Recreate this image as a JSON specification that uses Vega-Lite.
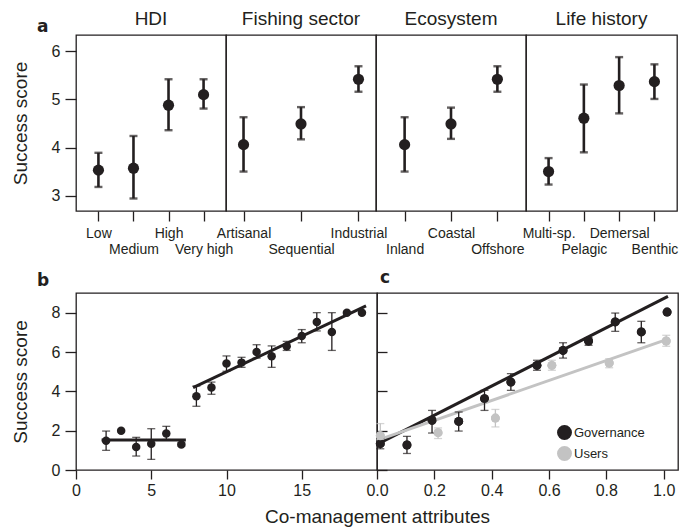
{
  "$schema": "https://vega.github.io/schema/vega-lite/v6.json",
  "background": "white",
  "padding": {"left": 10, "top": 9, "right": 5, "bottom": 0},
  "config": {
    "font": "Liberation Sans",
    "view": {"stroke": "#231f20", "strokeWidth": 1.3},
    "axis": {"domain": false, "grid": false, "tickColor": "#231f20", "tickWidth": 1.3, "labelColor": "#231f20", "titleColor": "#231f20", "titleFontWeight": "normal", "labelFont": "Liberation Sans", "titleFont": "Liberation Sans"},
    "title": {"font": "Liberation Sans", "fontWeight": "normal", "fontSize": 19, "color": "#231f20", "offset": 6},
    "legend": {"labelFont": "Liberation Sans"}
  },
  "datasets": {
    "a": [
      {"group": "HDI", "cat": "Low", "mean": 3.53, "lo": 3.18, "hi": 3.89},
      {"group": "HDI", "cat": "Medium", "mean": 3.57, "lo": 2.94, "hi": 4.24},
      {"group": "HDI", "cat": "High", "mean": 4.88, "lo": 4.36, "hi": 5.42},
      {"group": "HDI", "cat": "Very high", "mean": 5.10, "lo": 4.81, "hi": 5.42},
      {"group": "Fishing sector", "cat": "Artisanal", "mean": 4.06, "lo": 3.50, "hi": 4.63},
      {"group": "Fishing sector", "cat": "Sequential", "mean": 4.49, "lo": 4.17, "hi": 4.84},
      {"group": "Fishing sector", "cat": "Industrial", "mean": 5.42, "lo": 5.16, "hi": 5.69},
      {"group": "Ecosystem", "cat": "Inland", "mean": 4.06, "lo": 3.50, "hi": 4.63},
      {"group": "Ecosystem", "cat": "Coastal", "mean": 4.49, "lo": 4.18, "hi": 4.83},
      {"group": "Ecosystem", "cat": "Offshore", "mean": 5.42, "lo": 5.16, "hi": 5.69},
      {"group": "Life history", "cat": "Multi-sp.", "mean": 3.50, "lo": 3.23, "hi": 3.78},
      {"group": "Life history", "cat": "Pelagic", "mean": 4.61, "lo": 3.90, "hi": 5.31},
      {"group": "Life history", "cat": "Demersal", "mean": 5.29, "lo": 4.71, "hi": 5.88},
      {"group": "Life history", "cat": "Benthic", "mean": 5.37, "lo": 5.01, "hi": 5.73}
    ],
    "b": [
      {"x": 2, "mean": 1.49, "lo": 1.0, "hi": 1.98},
      {"x": 3, "mean": 2.0, "lo": null, "hi": null},
      {"x": 4, "mean": 1.17, "lo": 0.71, "hi": 1.66},
      {"x": 5, "mean": 1.34, "lo": 0.54, "hi": 2.1},
      {"x": 6, "mean": 1.85, "lo": 1.55, "hi": 2.22},
      {"x": 7, "mean": 1.30, "lo": 1.22, "hi": 1.38},
      {"x": 8, "mean": 3.75, "lo": 3.24, "hi": 4.27},
      {"x": 9, "mean": 4.19, "lo": 3.85, "hi": 4.47},
      {"x": 10, "mean": 5.41, "lo": 5.02, "hi": 5.8},
      {"x": 11, "mean": 5.46, "lo": 5.22, "hi": 5.73},
      {"x": 12, "mean": 6.0, "lo": 5.69, "hi": 6.37},
      {"x": 13, "mean": 5.78, "lo": 5.22, "hi": 6.31},
      {"x": 14, "mean": 6.29, "lo": 6.08, "hi": 6.54},
      {"x": 15, "mean": 6.81, "lo": 6.47, "hi": 7.14},
      {"x": 16, "mean": 7.53, "lo": 7.07, "hi": 8.0},
      {"x": 17, "mean": 7.02, "lo": 6.08, "hi": 8.0},
      {"x": 18, "mean": 8.0, "lo": null, "hi": null},
      {"x": 19, "mean": 8.0, "lo": null, "hi": null}
    ],
    "blines": [
      {"seg": "low", "x": 1.7, "y": 1.53},
      {"seg": "low", "x": 7.3, "y": 1.53},
      {"seg": "high", "x": 7.78, "y": 4.19},
      {"seg": "high", "x": 19.27, "y": 8.34}
    ],
    "c": [
      {"series": "Governance", "x": 0.0115, "mean": 1.34, "lo": 1.08, "hi": 1.62},
      {"series": "Governance", "x": 0.1045, "mean": 1.27, "lo": 0.84, "hi": 1.71},
      {"series": "Governance", "x": 0.192, "mean": 2.53, "lo": 1.88, "hi": 3.03},
      {"series": "Governance", "x": 0.285, "mean": 2.47, "lo": 1.98, "hi": 2.95},
      {"series": "Governance", "x": 0.375, "mean": 3.63, "lo": 3.03, "hi": 4.05},
      {"series": "Governance", "x": 0.467, "mean": 4.47, "lo": 4.05, "hi": 4.9},
      {"series": "Governance", "x": 0.558, "mean": 5.32, "lo": 5.07, "hi": 5.58},
      {"series": "Governance", "x": 0.649, "mean": 6.08, "lo": 5.69, "hi": 6.47},
      {"series": "Governance", "x": 0.738, "mean": 6.56, "lo": 6.34, "hi": 6.73},
      {"series": "Governance", "x": 0.831, "mean": 7.53, "lo": 7.05, "hi": 7.98},
      {"series": "Governance", "x": 0.922, "mean": 7.02, "lo": 6.47, "hi": 7.56},
      {"series": "Governance", "x": 1.012, "mean": 8.03, "lo": null, "hi": null},
      {"series": "Users", "x": 0.0115, "mean": 1.74, "lo": 1.3, "hi": 2.36},
      {"series": "Users", "x": 0.213, "mean": 1.9, "lo": 1.6, "hi": 2.14},
      {"series": "Users", "x": 0.413, "mean": 2.64, "lo": 2.19, "hi": 3.08},
      {"series": "Users", "x": 0.61, "mean": 5.32, "lo": 5.07, "hi": 5.58},
      {"series": "Users", "x": 0.81, "mean": 5.44, "lo": 5.2, "hi": 5.66},
      {"series": "Users", "x": 1.009, "mean": 6.56, "lo": 6.29, "hi": 6.85}
    ],
    "clines": [
      {"series": "Governance", "x": 0.0, "y": 1.3},
      {"series": "Governance", "x": 1.015, "y": 8.83},
      {"series": "Users", "x": 0.0, "y": 1.51},
      {"series": "Users", "x": 1.012, "y": 6.64}
    ]
  },
  "vconcat": [
    {
      "title": {"text": "a", "anchor": "start", "frame": "group", "dx": -39, "dy": 8, "offset": -19, "font": "DejaVu Sans", "fontWeight": "bold", "fontSize": 17},
      "spacing": 0,
      "bounds": "flush",
      "hconcat": [
        {
          "width": 150, "height": 176,
          "data": {"name": "a"},
          "transform": [{"filter": "datum.group === 'HDI'"}],
          "title": {"text": "HDI", "anchor": "middle", "frame": "group"},
          "encoding": {
            "x": {"field": "cat", "type": "nominal", "sort": ["Low", "Medium", "High", "Very high"], "scale": {"type": "point", "padding": 0.64},
              "axis": {"title": null, "labelAngle": 0, "tickSize": 10, "labelPadding": 5, "labelFontSize": 14, "labelBaseline": "top", "labelLineHeight": 16.5,
                "labelExpr": "indexof(['Medium','Very high','Sequential','Inland','Offshore','Pelagic','Benthic'], datum.label) >= 0 ? ['', datum.label] : datum.label"}}
          },
          "layer": [
            {"mark": {"type": "rule", "strokeWidth": 2.6, "color": "#231f20"},
              "encoding": {"y": {"field": "lo", "type": "quantitative", "scale": {"domain": [2.68, 6.34], "nice": false, "zero": false},
                "axis": {"title": "Success score", "titleFontSize": 19, "titlePadding": 21, "values": [3, 4, 5, 6], "labelFontSize": 16, "tickSize": 11, "labelPadding": 5}},
                "y2": {"field": "hi"}}},
            {"mark": {"type": "tick", "orient": "horizontal", "size": 8, "thickness": 2.4, "color": "#231f20"}, "encoding": {"y": {"field": "lo", "type": "quantitative"}}},
            {"mark": {"type": "tick", "orient": "horizontal", "size": 8, "thickness": 2.4, "color": "#231f20"}, "encoding": {"y": {"field": "hi", "type": "quantitative"}}},
            {"mark": {"type": "circle", "size": 125, "opacity": 1, "color": "#231f20"}, "encoding": {"y": {"field": "mean", "type": "quantitative"}}}
          ]
        },
        {
          "width": 150, "height": 176,
          "data": {"name": "a"},
          "transform": [{"filter": "datum.group === 'Fishing sector'"}],
          "title": {"text": "Fishing sector", "anchor": "middle", "frame": "group"},
          "encoding": {
            "x": {"field": "cat", "type": "nominal", "sort": ["Artisanal", "Sequential", "Industrial"], "scale": {"type": "point", "padding": 0.305},
              "axis": {"title": null, "labelAngle": 0, "tickSize": 10, "labelPadding": 5, "labelFontSize": 14, "labelBaseline": "top", "labelLineHeight": 16.5,
                "labelExpr": "indexof(['Medium','Very high','Sequential','Inland','Offshore','Pelagic','Benthic'], datum.label) >= 0 ? ['', datum.label] : datum.label"}}
          },
          "layer": [
            {"mark": {"type": "rule", "strokeWidth": 2.6, "color": "#231f20"},
              "encoding": {"y": {"field": "lo", "type": "quantitative", "scale": {"domain": [2.68, 6.34], "nice": false, "zero": false}, "axis": null}, "y2": {"field": "hi"}}},
            {"mark": {"type": "tick", "orient": "horizontal", "size": 8, "thickness": 2.4, "color": "#231f20"}, "encoding": {"y": {"field": "lo", "type": "quantitative", "axis": null}}},
            {"mark": {"type": "tick", "orient": "horizontal", "size": 8, "thickness": 2.4, "color": "#231f20"}, "encoding": {"y": {"field": "hi", "type": "quantitative", "axis": null}}},
            {"mark": {"type": "circle", "size": 125, "opacity": 1, "color": "#231f20"}, "encoding": {"y": {"field": "mean", "type": "quantitative", "axis": null}}}
          ]
        },
        {
          "width": 150, "height": 176,
          "data": {"name": "a"},
          "transform": [{"filter": "datum.group === 'Ecosystem'"}],
          "title": {"text": "Ecosystem", "anchor": "middle", "frame": "group"},
          "encoding": {
            "x": {"field": "cat", "type": "nominal", "sort": ["Inland", "Coastal", "Offshore"], "scale": {"type": "point", "padding": 0.617},
              "axis": {"title": null, "labelAngle": 0, "tickSize": 10, "labelPadding": 5, "labelFontSize": 14, "labelBaseline": "top", "labelLineHeight": 16.5,
                "labelExpr": "indexof(['Medium','Very high','Sequential','Inland','Offshore','Pelagic','Benthic'], datum.label) >= 0 ? ['', datum.label] : datum.label"}}
          },
          "layer": [
            {"mark": {"type": "rule", "strokeWidth": 2.6, "color": "#231f20"},
              "encoding": {"y": {"field": "lo", "type": "quantitative", "scale": {"domain": [2.68, 6.34], "nice": false, "zero": false}, "axis": null}, "y2": {"field": "hi"}}},
            {"mark": {"type": "tick", "orient": "horizontal", "size": 8, "thickness": 2.4, "color": "#231f20"}, "encoding": {"y": {"field": "lo", "type": "quantitative", "axis": null}}},
            {"mark": {"type": "tick", "orient": "horizontal", "size": 8, "thickness": 2.4, "color": "#231f20"}, "encoding": {"y": {"field": "hi", "type": "quantitative", "axis": null}}},
            {"mark": {"type": "circle", "size": 125, "opacity": 1, "color": "#231f20"}, "encoding": {"y": {"field": "mean", "type": "quantitative", "axis": null}}}
          ]
        },
        {
          "width": 151, "height": 176,
          "data": {"name": "a"},
          "transform": [{"filter": "datum.group === 'Life history'"}],
          "title": {"text": "Life history", "anchor": "middle", "frame": "group"},
          "encoding": {
            "x": {"field": "cat", "type": "nominal", "sort": ["Multi-sp.", "Pelagic", "Demersal", "Benthic"], "scale": {"type": "point", "padding": 0.64},
              "axis": {"title": null, "labelAngle": 0, "tickSize": 10, "labelPadding": 5, "labelFontSize": 14, "labelBaseline": "top", "labelLineHeight": 16.5,
                "labelExpr": "indexof(['Medium','Very high','Sequential','Inland','Offshore','Pelagic','Benthic'], datum.label) >= 0 ? ['', datum.label] : datum.label"}}
          },
          "layer": [
            {"mark": {"type": "rule", "strokeWidth": 2.6, "color": "#231f20"},
              "encoding": {"y": {"field": "lo", "type": "quantitative", "scale": {"domain": [2.68, 6.34], "nice": false, "zero": false}, "axis": null}, "y2": {"field": "hi"}}},
            {"mark": {"type": "tick", "orient": "horizontal", "size": 8, "thickness": 2.4, "color": "#231f20"}, "encoding": {"y": {"field": "lo", "type": "quantitative", "axis": null}}},
            {"mark": {"type": "tick", "orient": "horizontal", "size": 8, "thickness": 2.4, "color": "#231f20"}, "encoding": {"y": {"field": "hi", "type": "quantitative", "axis": null}}},
            {"mark": {"type": "circle", "size": 125, "opacity": 1, "color": "#231f20"}, "encoding": {"y": {"field": "mean", "type": "quantitative", "axis": null}}}
          ]
        }
      ]
    },
    {
      "spacing": 0,
      "bounds": "flush",
      "hconcat": [
        {
          "width": 301, "height": 177,
          "data": {"name": "b"},
          "title": {"text": "b", "anchor": "start", "frame": "group", "dx": -39, "dy": -4, "offset": -1, "font": "DejaVu Sans", "fontWeight": "bold", "fontSize": 17},
          "layer": [
            {"data": {"name": "blines"},
              "mark": {"type": "line", "strokeWidth": 3, "color": "#231f20"},
              "encoding": {
                "x": {"field": "x", "type": "quantitative", "scale": {"domain": [0, 20], "nice": false, "zero": false},
                  "axis": {"title": "Co-management attributes", "titleFontSize": 19, "titleX": 301, "titleY": 52, "titleAlign": "center", "titleBaseline": "alphabetic", "values": [0, 5, 10, 15], "labelFontSize": 16, "tickSize": 9, "labelPadding": 3, "labelFlush": false}},
                "y": {"field": "y", "type": "quantitative", "scale": {"domain": [0, 9], "nice": false, "zero": false},
                  "axis": {"title": "Success score", "titleFontSize": 19, "titlePadding": 21, "values": [0, 2, 4, 6, 8], "labelFontSize": 16, "tickSize": 11, "labelPadding": 5}},
                "detail": {"field": "seg"}
              }},
            {"mark": {"type": "rule", "strokeWidth": 1.3, "color": "#231f20"},
              "encoding": {"x": {"field": "x", "type": "quantitative"}, "y": {"field": "lo", "type": "quantitative"}, "y2": {"field": "hi"}}},
            {"mark": {"type": "tick", "orient": "horizontal", "size": 8, "thickness": 1.3, "color": "#231f20"},
              "encoding": {"x": {"field": "x", "type": "quantitative"}, "y": {"field": "lo", "type": "quantitative"}}},
            {"mark": {"type": "tick", "orient": "horizontal", "size": 8, "thickness": 1.3, "color": "#231f20"},
              "encoding": {"x": {"field": "x", "type": "quantitative"}, "y": {"field": "hi", "type": "quantitative"}}},
            {"mark": {"type": "circle", "size": 72, "opacity": 1, "color": "#231f20"},
              "encoding": {"x": {"field": "x", "type": "quantitative"}, "y": {"field": "mean", "type": "quantitative"}}}
          ]
        },
        {
          "width": 301, "height": 177,
          "data": {"name": "c"},
          "title": {"text": "c", "anchor": "start", "frame": "group", "dx": 3, "dy": -4, "offset": -1, "font": "DejaVu Sans", "fontWeight": "bold", "fontSize": 17},
          "layer": [
            {"mark": {"type": "circle", "size": 80, "opacity": 1},
              "encoding": {
                "x": {"field": "x", "type": "quantitative", "scale": {"domain": [0, 1.05], "nice": false, "zero": false},
                  "axis": {"title": null, "values": [0, 0.2, 0.4, 0.6, 0.8, 1.0], "format": ".1f", "labelFontSize": 16, "tickSize": 9, "labelPadding": 3, "labelFlush": false}},
                "y": {"field": "mean", "type": "quantitative", "scale": {"domain": [0, 9], "nice": false, "zero": false},
                  "axis": {"title": null, "labels": false, "values": [0, 2, 4, 6, 8], "tickSize": -10}},
                "color": {"field": "series", "type": "nominal", "scale": {"domain": ["Governance", "Users"], "range": ["#231f20", "#c3c3c3"]},
                  "legend": {"title": null, "orient": "none", "legendX": 481, "legendY": 390, "labelFontSize": 13, "labelColor": "#231f20", "symbolSize": 180, "symbolType": "circle", "labelOffset": 2, "rowPadding": 0}}}},
            {"data": {"name": "clines"},
              "mark": {"type": "line", "strokeWidth": 3},
              "encoding": {
                "x": {"field": "x", "type": "quantitative"},
                "y": {"field": "y", "type": "quantitative"},
                "color": {"field": "series", "type": "nominal"}
              }},
            {"mark": {"type": "rule", "strokeWidth": 1.3},
              "encoding": {"x": {"field": "x", "type": "quantitative"}, "y": {"field": "lo", "type": "quantitative"}, "y2": {"field": "hi"},
                "color": {"field": "series", "type": "nominal"}}},
            {"mark": {"type": "tick", "orient": "horizontal", "size": 8, "thickness": 1.3},
              "encoding": {"x": {"field": "x", "type": "quantitative"}, "y": {"field": "lo", "type": "quantitative"},
                "color": {"field": "series", "type": "nominal"}}},
            {"mark": {"type": "tick", "orient": "horizontal", "size": 8, "thickness": 1.3},
              "encoding": {"x": {"field": "x", "type": "quantitative"}, "y": {"field": "hi", "type": "quantitative"},
                "color": {"field": "series", "type": "nominal"}}},
            {"mark": {"type": "circle", "size": 80, "opacity": 1},
              "encoding": {"x": {"field": "x", "type": "quantitative"}, "y": {"field": "mean", "type": "quantitative"},
                "color": {"field": "series", "type": "nominal"}}}
          ]
        }
      ]
    }
  ],
  "spacing": 10
}
